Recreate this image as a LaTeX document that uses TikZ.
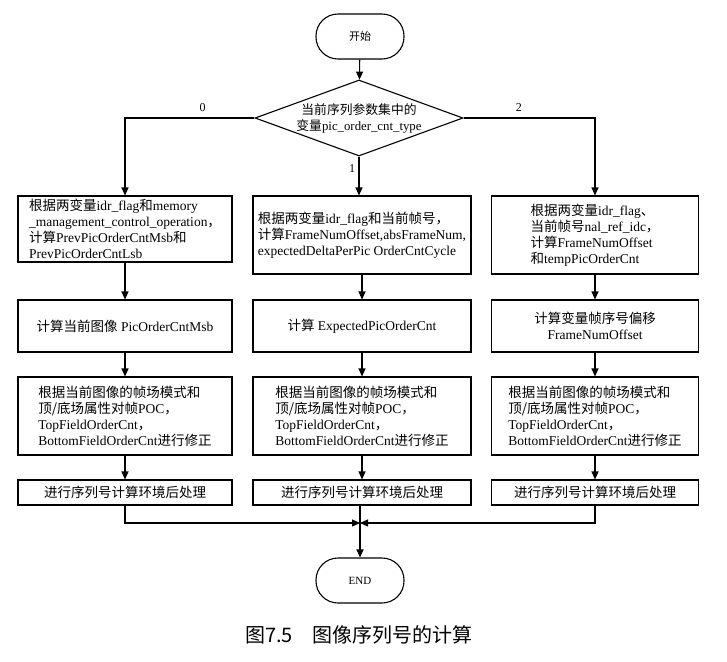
\documentclass[tikz,border=0pt]{standalone}
\usepackage{fontspec}
\setmainfont{Liberation Serif}
\newfontfamily\cjk{Noto Sans CJK SC}
\usetikzlibrary{shapes.geometric,arrows.meta,positioning}
\newcommand\zh[1]{{\cjk #1}}

\tikzset{
  flow/.style={draw, line width=1.1pt},
  term/.style={flow, rounded corners=22pt, minimum width=88pt, minimum height=45pt, font=\fontsize{11}{13}\selectfont},
  decide/.style={flow, diamond, aspect=2.74, minimum width=208pt, minimum height=76pt, inner sep=0pt, align=center, font=\fontsize{12.8}{16}\selectfont},
  proc/.style={flow, rectangle, align=left, inner sep=0pt, font=\fontsize{13.5}{16}\selectfont},
  leftcol/.style={proc, minimum width=214pt},
  midcol/.style={proc, minimum width=218pt},
  rightcol/.style={proc, minimum width=207pt},
  arr/.style={line width=1.1pt, -{Triangle[length=8pt,width=7pt]}},
  branch/.style={font=\fontsize{12}{14}\selectfont}
}

\begin{document}
\begin{tikzpicture}[x=1pt, y=-1pt]
  \useasboundingbox (0,0) rectangle (727,661);

  \node[term] (start) at (360,36.5) {\zh{开始}};
  \node[decide] (type) at (359,118) {\zh{当前序列参数集中的}\\\zh{变量}pic\_order\_cnt\_type};

  % row 1
  \node[leftcol, minimum height=66pt] (l1) at (125,229) {\zh{根据两变量}idr\_flag\zh{和}memory\\\_management\_control\_operation\zh{，}\\\zh{计算}PrevPicOrderCntMsb\zh{和}\\PrevPicOrderCntLsb};
  \node[midcol, minimum height=78pt] (m1) at (362,235) {\zh{根据两变量}idr\_flag\zh{和当前帧号，}\\\zh{计算}FrameNumOffset,absFrameNum,\\expectedDeltaPerPic OrderCntCycle};
  \node[rightcol, minimum height=78pt] (r1) at (595,235) {\zh{根据两变量}idr\_flag\zh{、}\\\zh{当前帧号}nal\_ref\_idc\zh{，}\\\zh{计算}FrameNumOffset\\\zh{和}tempPicOrderCnt};

  % row 2
  \node[leftcol, minimum height=52pt] (l2) at (125,326) {\zh{计算当前图像} PicOrderCntMsb};
  \node[midcol, minimum height=52pt] (m2) at (362,326) {\zh{计算} ExpectedPicOrderCnt};
  \node[rightcol, minimum height=52pt, align=center] (r2) at (595,326) {\zh{计算变量帧序号偏移}\\FrameNumOffset};

  % row 3
  \node[leftcol, minimum height=78pt] (l3) at (125,416) {\zh{根据当前图像的帧场模式和}\\\zh{顶/底场属性对帧}POC\zh{，}\\TopFieldOrderCnt\zh{，}\\BottomFieldOrderCnt\zh{进行修正}};
  \node[midcol, minimum height=78pt] (m3) at (362,416) {\zh{根据当前图像的帧场模式和}\\\zh{顶/底场属性对帧}POC\zh{，}\\TopFieldOrderCnt\zh{，}\\BottomFieldOrderCnt\zh{进行修正}};
  \node[rightcol, minimum height=78pt] (r3) at (595,416) {\zh{根据当前图像的帧场模式和}\\\zh{顶/底场属性对帧}POC\zh{，}\\TopFieldOrderCnt\zh{，}\\BottomFieldOrderCnt\zh{进行修正}};

  % row 4
  \node[leftcol, minimum height=25pt] (l4) at (125,492.5) {\zh{进行序列号计算环境后处理}};
  \node[midcol, minimum height=25pt] (m4) at (362,492.5) {\zh{进行序列号计算环境后处理}};
  \node[rightcol, minimum height=25pt] (r4) at (595,492.5) {\zh{进行序列号计算环境后处理}};

  \node[term] (stop) at (360,580.5) {END};
  \coordinate (join) at (360,523);

  \node[font=\cjk\fontsize{20}{24}\selectfont] (caption) at (359,635) {图7.5\quad 图像序列号的计算};

  \draw[arr] (start) -- (type);
  \draw[arr] (type.west) -| node[branch, pos=0.2, above=3pt] {0} (l1.north);
  \draw[arr] (type.east) -| node[branch, pos=0.21, above=3pt] {2} (r1.north);
  \draw[arr] (type.south) -- node[branch, pos=0.3, left] {1} (type.south |- m1.north);

  \draw[arr] (l1) -- (l2);
  \draw[arr] (l2) -- (l3);
  \draw[arr] (l3) -- (l4);
  \draw[arr] (m1) -- (m2);
  \draw[arr] (m2) -- (m3);
  \draw[arr] (m3) -- (m4);
  \draw[arr] (r1) -- (r2);
  \draw[arr] (r2) -- (r3);
  \draw[arr] (r3) -- (r4);

  \draw[arr] (l4.south) |- (join);
  \draw[arr] (r4.south) |- (join);
  \draw[arr] (m4.south -| stop) -- (stop);
\end{tikzpicture}
\end{document}
